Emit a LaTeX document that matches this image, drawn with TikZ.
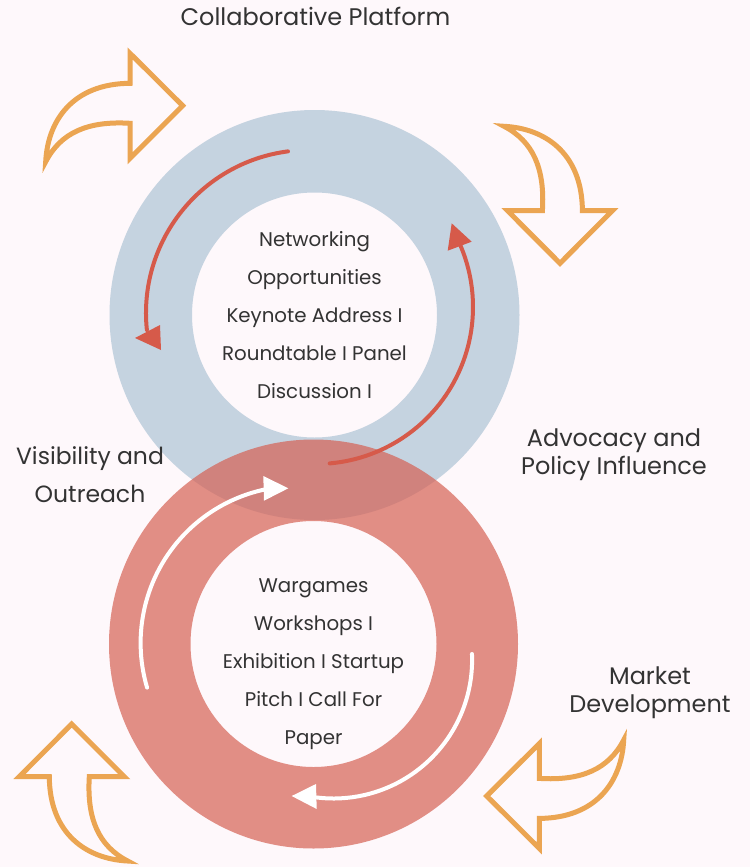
\documentclass[tikz,border=0pt]{standalone}
\usepackage{fontspec}
\setmainfont{Poppins}
\usetikzlibrary{calc,positioning}

\definecolor{bgpink}{RGB}{254,248,251}
\definecolor{ringblue}{RGB}{197,211,224}
\definecolor{ringred}{RGB}{214,97,83}
\definecolor{arcred}{RGB}{214,90,74}
\definecolor{arrowor}{RGB}{235,165,82}
\definecolor{textgray}{RGB}{51,51,51}

\begin{document}
\begin{tikzpicture}[
        x=1pt, y=1pt,
        ring/.style={even odd rule, draw=none},
        cyclearc/.style={line width=4pt, line cap=round},
        caption/.style={text=textgray, align=center, inner sep=0pt,
            font=\fontsize{24}{28}\selectfont},
        inside/.style={text=textgray, align=center, inner sep=0pt,
            font=\fontsize{19.8}{38}\selectfont},
        bendarrow/.pic={
            \draw[arrowor, line width=5pt, line join=miter]
              (0,0) -- (-52.7,-52.6) -- (-52.7,-17.6)
              .. controls (-95,-15) and (-122,-27) .. (-137,-56)
              .. controls (-135,-15) and (-110,22) .. (-52.7,22.4)
              -- (-52.7,52.4) -- cycle;
        }
      ]

  % page
  \fill[bgpink] (0,0) rectangle (750,-867);

  \coordinate (top) at (314.5,-315);
  \coordinate (bot) at (313.5,-644);

  % the two rings
  \fill[ring, ringblue] (top) circle (205) (top) circle (122.5);
  \fill[ring, ringred, fill opacity=0.7] (bot) circle (204.5) (bot) circle (123);

  % red cycle in the upper ring
  \draw[cyclearc, arcred] ($(309,-313)+(97.4:163)$) arc (97.4:186:163);
  \fill[arcred] (135,-338) -- (160,-325) -- (161,-350) -- cycle;
  \draw[cyclearc, arcred] ($(316,-307)+(-85:157)$) arc (-85:27:157);
  \fill[arcred] (451.7,-223.3) -- (447.7,-250.7) -- (471.7,-241.7) -- cycle;

  % white cycle in the lower ring
  \draw[cyclearc, white] ($(297.6,-643)+(196.5:157)$) arc (196.5:100:157);
  \fill[white] (288.3,-488.3) -- (263.3,-476) -- (264,-500.7) -- cycle;
  \draw[cyclearc, white] ($(333.6,-660)+(2.5:138.5)$) arc (2.5:-97:138.5);
  \fill[white] (291.7,-796) -- (316,-784) -- (316.7,-809) -- cycle;

  % bent arrows round the rings
  \pic at (182.7,-105.7) {bendarrow};
  \pic[rotate=-90] at (560,-263.3) {bendarrow};
  \pic[rotate=180] at (486.7,-796) {bendarrow};
  \pic[rotate=90] at (71.7,-724) {bendarrow};

  % texts
  \node[inside] (events) at (top) {Networking\\Opportunities\\Keynote Address I\\Roundtable I Panel\\Discussion I};
  \node[inside] (programs) at (313.5,-664) {Wargames\\Workshops I\\Exhibition I Startup\\Pitch I Call For\\Paper};

  \node[caption] (platform) at (315.5,-16) {Collaborative Platform};
  \node[caption, font=\fontsize{23.5}{38}\selectfont] (outreach) at (90,-475) {Visibility and\\Outreach};
  \node[caption] (advocacy) at (614,-455) {Advocacy and\\Policy Influence};
  \node[caption] (market) at (650,-693) {Market\\Development};
\end{tikzpicture}
\end{document}
